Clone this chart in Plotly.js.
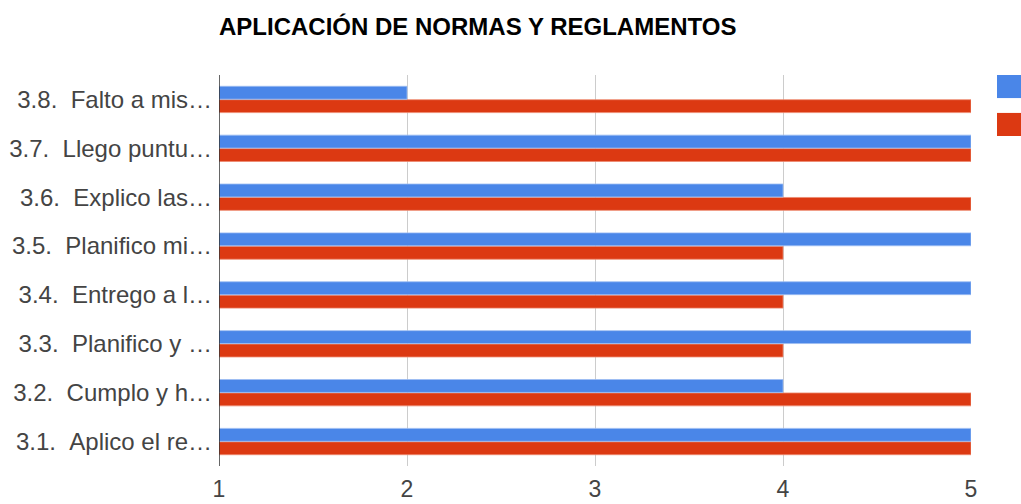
<!DOCTYPE html>
<html>
<head>
<meta charset="utf-8">
<script src="https://cdn.plot.ly/plotly-3.0.1.min.js"></script>
<style>html,body{margin:0;padding:0;background:#fff;}#chart{width:1021px;height:504px;}</style>
</head>
<body>
<div id="chart"></div>
<script>
// Categories bottom to top
const categories = [
  "3.1.\u00a0\u00a0Aplico el re\u2026",
  "3.2.\u00a0\u00a0Cumplo y h\u2026",
  "3.3.\u00a0\u00a0Planifico y \u2026",
  "3.4.\u00a0\u00a0Entrego a l\u2026",
  "3.5.\u00a0\u00a0Planifico mi\u2026",
  "3.6.\u00a0\u00a0Explico las\u2026",
  "3.7.\u00a0\u00a0Llego puntu\u2026",
  "3.8.\u00a0\u00a0Falto a mis\u2026"
];
const seriesBlue = [5, 4, 5, 5, 5, 4, 5, 2];
const seriesRed  = [5, 5, 4, 4, 4, 5, 5, 5];
const xTicks = [1, 2, 3, 4, 5];

const traces = [
  {type: 'bar', orientation: 'h', y: categories, x: seriesRed, name: 'Serie 2',
   marker: {color: '#dc3912', line: {color: '#ee8a70', width: 0.8}}, hoverinfo: 'x+y'},
  {type: 'bar', orientation: 'h', y: categories, x: seriesBlue, name: 'Serie 1',
   marker: {color: '#4a86e8', line: {color: '#9dbdf3', width: 0.8}}, hoverinfo: 'x+y'}
];

const layout = {
  width: 1021, height: 504,
  margin: {l: 219, r: 50, t: 75, b: 38, pad: 0},
  paper_bgcolor: '#fff', plot_bgcolor: '#fff',
  showlegend: false,
  barmode: 'group', bargap: 0.45, bargroupgap: 0.04,
  font: {family: 'Liberation Sans, Arial, sans-serif', color: '#444'},
  title: {text: 'APLICACIÓN DE NORMAS Y REGLAMENTOS', x: 0, xanchor: 'left', xref: 'paper', y: 0.948, yref: 'container', yanchor: 'middle',
          font: {family: 'Liberation Sans, Arial, sans-serif', size: 24, color: '#000', weight: 'bold'}},
  xaxis: {range: [1, 5], tickvals: xTicks, ticktext: xTicks.map(String), showgrid: true, gridcolor: '#cccccc', gridwidth: 1,
          zeroline: false, showline: false, ticks: '', tickfont: {size: 23, color: '#444'}, ticklabelstandoff: 7, fixedrange: true},
  yaxis: {type: 'category', categoryorder: 'array', categoryarray: categories, showline: false, ticks: '', showgrid: false,
          zeroline: false, tickfont: {size: 24, color: '#444'}, ticklabelstandoff: 6, fixedrange: true},
  shapes: [
    {type: 'line', xref: 'x', yref: 'paper', x0: 1, x1: 1, y0: 0, y1: 1, line: {color: '#333', width: 1.5}},
    {type: 'rect', xref: 'paper', yref: 'paper', x0: 1.0346, x1: 1.07, y0: 0.941, y1: 1.0, fillcolor: '#4a86e8', line: {width: 0}},
    {type: 'rect', xref: 'paper', yref: 'paper', x0: 1.0346, x1: 1.07, y0: 0.844, y1: 0.903, fillcolor: '#dc3912', line: {width: 0}}
  ]
};

Plotly.newPlot('chart', traces, layout, {displayModeBar: false, staticPlot: true});
</script>
</body>
</html>
